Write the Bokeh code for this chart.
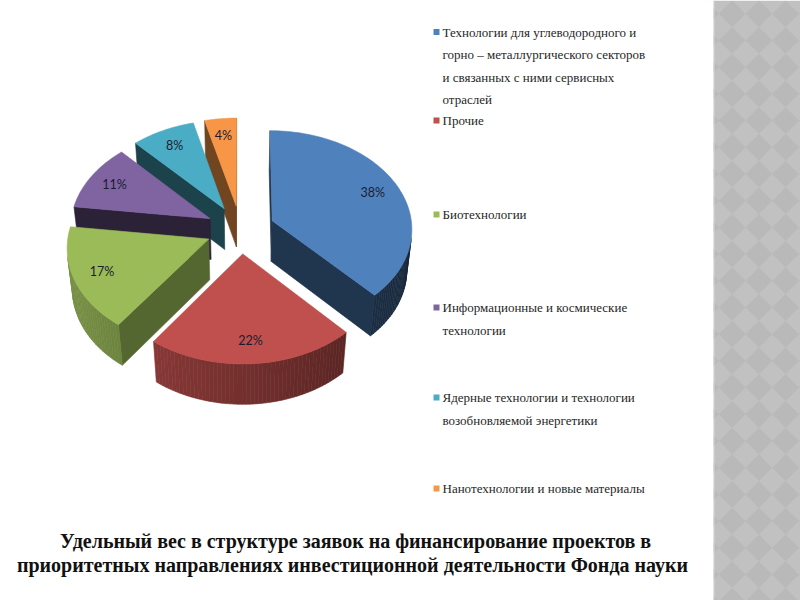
import math
import numpy as np
from bokeh.plotting import figure
from bokeh.models import Range1d
from bokeh.core.properties import value
from bokeh.embed import file_html
from bokeh.resources import INLINE

# ---------------- data ----------------
categories = [
    "Технологии для углеводородного и горно – металлургического секторов и связанных с ними сервисных отраслей",
    "Прочие",
    "Биотехнологии",
    "Информационные и космические технологии",
    "Ядерные технологии и технологии возобновляемой энергетики",
    "Нанотехнологии и новые материалы",
]
legend_lines = [
    ["Технологии  для  углеводородного и", "горно – металлургического секторов",
     "и связанных  с ними сервисных", "отраслей"],
    ["Прочие"],
    ["Биотехнологии"],
    ["Информационные и космические", "технологии"],
    ["Ядерные технологии  и технологии", "возобновляемой энергетики"],
    ["Нанотехнологии  и новые материалы"],
]
shares = [38, 22, 17, 11, 8, 4]
pct_labels = ["38%", "22%", "17%", "11%", "8%", "4%"]
colors = ["#4F81BD", "#C0504D", "#9BBB59", "#8064A2", "#4BACC6", "#F79646"]
caption_lines = [
    "Удельный вес в структуре заявок на финансирование проектов в",
    "приоритетных направлениях инвестиционной деятельности Фонда науки",
]

# ---------------- layout / style ----------------
W, H = 800, 600
CX, CY = 240.0, 229.0       # projected pie centre (page px)
F, D = 1340.0, 9.57         # perspective
PHI = math.radians(44.4)
THICK = 0.42
EXPLODE = 0.245
LABEL_R = 0.8
side_f = [0.45, 0.6, 0.6, 0.38, 0.42, 0.5]
cphi, sphi = math.cos(PHI), math.sin(PHI)
CAM = np.array([0.0, D * cphi, D * sphi])

legend_y0 = [31.5, 120, 214, 307, 397, 488]
legend_dy = 22.5

p = figure(width=W, height=H, output_backend="svg", toolbar_location=None,
           x_range=Range1d(0, W), y_range=Range1d(H, 0), min_border=0)
p.axis.visible = False
p.grid.visible = False
p.outline_line_color = None
p.background_fill_color = "white"
p.border_fill_color = "white"

# -------- right decorative strip --------
p.quad(left=[713], right=[800], top=[0], bottom=[600], fill_color="#c1c1c1",
       line_color=None)
dx, dy = [], []
hd = 13.35
for i in range(-1, 4):
    for j in range(-1, 24):
        x0 = 731.7 + 26.7 * i
        y0 = 13.3 + 26.7 * j
        dx.append([x0 - hd, x0, x0 + hd, x0])
        dy.append([y0, y0 - hd, y0, y0 + hd])
p.patches(dx, dy, fill_color="#b9b9b9", line_color=None)
p.quad(left=[680], right=[713], top=[0], bottom=[600], fill_color="white",
       line_color=None)
p.segment(x0=[713.5], y0=[0], x1=[713.5], y1=[600], line_color="#d6d6d6", line_width=1)


# -------- 3D exploded pie --------
def proj(X, Y, Z):
    depth = D - (Y * cphi + Z * sphi)
    sx = CX + F * X / depth
    sy = CY - F * (-Y * sphi + Z * cphi) / depth
    return sx, sy


def shade(hexcol, f):
    r, g, b = int(hexcol[1:3], 16), int(hexcol[3:5], 16), int(hexcol[5:7], 16)
    r, g, b = [max(0, min(255, int(c * f))) for c in (r, g, b)]
    return "#%02x%02x%02x" % (r, g, b)


total = float(sum(shares))
starts = np.cumsum([0] + shares[:-1]) / total * 360.0
ends = np.cumsum(shares) / total * 360.0

slices = []
for k, (a0, a1) in enumerate(zip(starts, ends)):
    m = math.radians((a0 + a1) / 2)
    ox, oy = EXPLODE * math.sin(m), -EXPLODE * math.cos(m)
    cy_ground = oy - 0.5 * math.cos(m)
    slices.append((D - cy_ground * cphi, k, a0, a1, ox, oy, m))
slices.sort(key=lambda s: -s[0])

face_xs, face_ys, face_cols = [], [], []
lab_x, lab_y, lab_t = [], [], []
for _, k, a0, a1, ox, oy, m in slices:
    col = colors[k]
    n = max(4, int((a1 - a0) / 1.5))
    th = np.radians(np.linspace(a0, a1, n))
    ex = ox + np.sin(th)
    ey = oy - np.cos(th)
    faces = []
    # outer curved strip
    for i in range(n - 1):
        tm = (th[i] + th[i + 1]) / 2
        nrm = np.array([math.sin(tm), -math.cos(tm), 0.0])
        P = np.array([(ex[i] + ex[i + 1]) / 2, (ey[i] + ey[i + 1]) / 2, -THICK / 2])
        if nrm @ (CAM - P) > 0:
            xs = [ex[i], ex[i + 1], ex[i + 1], ex[i]]
            ys = [ey[i], ey[i + 1], ey[i + 1], ey[i]]
            zs = [0, 0, -THICK, -THICK]
            f = side_f[k] * (1 - 0.3 * nrm[0])
            faces.append((xs, ys, zs, shade(col, f), P))
    # radial faces
    for ang, sgn in ((math.radians(a0), -1), (math.radians(a1), 1)):
        nrm = sgn * np.array([math.cos(ang), math.sin(ang), 0.0])
        rx, ry = ox + math.sin(ang), oy - math.cos(ang)
        P = np.array([(ox + rx) / 2, (oy + ry) / 2, -THICK / 2])
        if nrm @ (CAM - P) > 0:
            xs = [ox, rx, rx, ox]
            ys = [oy, ry, ry, oy]
            zs = [0, 0, -THICK, -THICK]
            faces.append((xs, ys, zs, shade(col, side_f[k] * 0.92), P))
    faces.sort(key=lambda fc: -(D - (fc[4][1] * cphi + fc[4][2] * sphi)))
    for xs, ys, zs, c, _ in faces:
        sx, sy = proj(np.array(xs), np.array(ys), np.array(zs))
        face_xs.append(list(sx))
        face_ys.append(list(sy))
        face_cols.append(c)
    # top
    tx = np.concatenate([[ox], ex])
    ty = np.concatenate([[oy], ey])
    sx, sy = proj(tx, ty, np.zeros_like(tx))
    face_xs.append(list(sx))
    face_ys.append(list(sy))
    face_cols.append(col)
    lx, ly = proj(ox + LABEL_R * math.sin(m), oy - LABEL_R * math.cos(m), 0.0)
    lab_x.append(lx)
    lab_y.append(ly)
    lab_t.append(pct_labels[k])

p.patches(face_xs, face_ys, fill_color=face_cols, line_color=face_cols, line_width=0.6)
p.text(lab_x, lab_y, text=lab_t, text_font=value("Lato"), text_font_size="12.5px",
       text_color="#1c1c30", text_align="center", text_baseline="middle")

# -------- legend --------
sq_x, sq_y, sq_c = [], [], []
lt_x, lt_y, lt_t = [], [], []
for k, lines in enumerate(legend_lines):
    sq_x.append(436)
    sq_y.append(legend_y0[k])
    sq_c.append(colors[k])
    for j, t in enumerate(lines):
        lt_x.append(442)
        lt_y.append(legend_y0[k] + j * legend_dy)
        lt_t.append(t)
p.scatter(sq_x, sq_y, marker="square", size=6, fill_color=sq_c, line_color=None)
p.text(lt_x, lt_y, text=lt_t, text_font=value("Liberation Serif"), text_font_size="13px",
       text_color="#262626", text_align="left", text_baseline="middle")

# -------- caption --------
p.text([355, 352], [540, 564], text=caption_lines, text_font=value("Liberation Serif"),
       text_font_size="20px", text_font_style="bold", text_color="#111111",
       text_align="center", text_baseline="middle")

open("out.html", "w").write(file_html(p, INLINE))
